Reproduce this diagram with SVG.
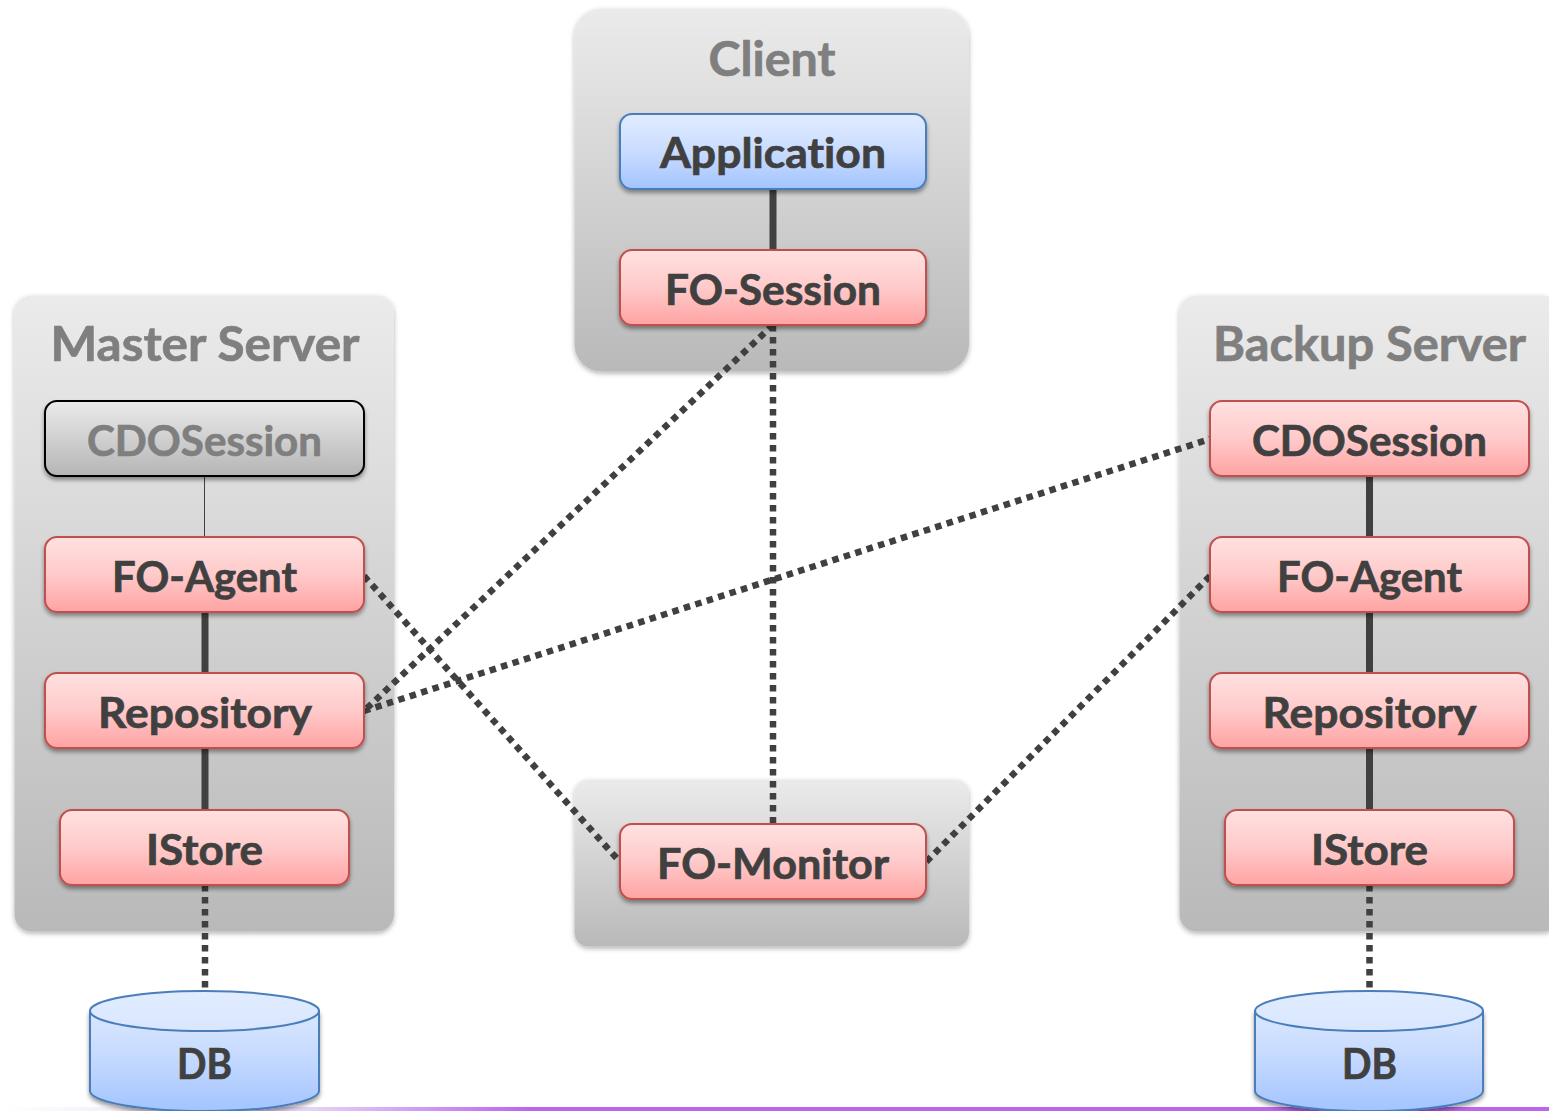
<svg xmlns="http://www.w3.org/2000/svg" width="1549" height="1111" viewBox="0 0 1549 1111">
<style>
text{font-family:Lato,"Liberation Sans",sans-serif;font-weight:700;text-anchor:middle;font-variant-ligatures:none;stroke-width:0.7px;paint-order:stroke}
.t{font-size:47px;fill:#7f7f7f;stroke:#7f7f7f}
.l{font-size:42px;fill:#404040;stroke:#404040}
.g{fill:#7f7f7f;stroke:#7f7f7f}
.panel{fill:url(#pg);filter:url(#ps)}
.red{fill:url(#rg);stroke:#c0504d;stroke-width:2;filter:url(#ns)}
.blue{fill:url(#bg);stroke:#4a7ebb;stroke-width:2;filter:url(#ns)}
.gray{fill:url(#gg);stroke:#000;stroke-width:2;filter:url(#ns)}
.dbs{fill:url(#dg);stroke:#4a7ebb;stroke-width:2}
.dbt{fill:url(#dt);stroke:#4a7ebb;stroke-width:2}
.solid{stroke:#404040;stroke-width:7;fill:none}
.thin{stroke:#404040;stroke-width:1;fill:none}
.dot{stroke:#404040;stroke-width:6.500;stroke-dasharray:6.500 5.500;fill:none}
</style>
<defs>
<linearGradient id="pg" x1="0" y1="0" x2="0" y2="1"><stop offset="0" stop-color="#ebebeb"/><stop offset="1" stop-color="#b9b9b9"/></linearGradient>
<linearGradient id="rg" x1="0" y1="0" x2="0" y2="1"><stop offset="0" stop-color="#ffe1e1"/><stop offset="0.5" stop-color="#ffcaca"/><stop offset="1" stop-color="#ffa3a3"/></linearGradient>
<linearGradient id="bg" x1="0" y1="0" x2="0" y2="1"><stop offset="0" stop-color="#e1ecff"/><stop offset="0.5" stop-color="#c9dcff"/><stop offset="1" stop-color="#a3c4ff"/></linearGradient>
<linearGradient id="gg" x1="0" y1="0" x2="0" y2="1"><stop offset="0" stop-color="#ebebeb"/><stop offset="1" stop-color="#b5b5b5"/></linearGradient>
<linearGradient id="dg" x1="0" y1="991" x2="0" y2="1111" gradientUnits="userSpaceOnUse"><stop offset="0" stop-color="#e1ecff"/><stop offset="0.5" stop-color="#c9dcff"/><stop offset="1" stop-color="#a3c4ff"/></linearGradient>
<linearGradient id="dt" x1="0" y1="0" x2="0" y2="1"><stop offset="0" stop-color="#e1ecff"/><stop offset="1" stop-color="#d9e6ff"/></linearGradient>
<linearGradient id="strip" x1="0" y1="0" x2="1" y2="0"><stop offset="0" stop-color="#ffffff"/><stop offset="0.2" stop-color="#e3d3f6"/><stop offset="0.34" stop-color="#bc66f0"/><stop offset="1" stop-color="#bc66f0"/></linearGradient>
<filter id="ps" x="-5%" y="-5%" width="110%" height="110%"><feDropShadow dx="0" dy="2" stdDeviation="2.500" flood-color="#000" flood-opacity="0.3"/></filter>
<filter id="ns" x="-5%" y="-10%" width="110%" height="130%"><feDropShadow dx="0" dy="3" stdDeviation="2" flood-color="#000" flood-opacity="0.4"/></filter>
</defs>
<rect id="strip-bar" x="0" y="1107" width="1549" height="4" fill="url(#strip)"/>
<g id="client"><rect class="panel" x="574.500" y="8.500" width="394.500" height="363" rx="27"/><text class="t" x="772" y="76" textLength="127" lengthAdjust="spacingAndGlyphs">Client</text></g>
<g id="master-server"><rect class="panel" x="14.500" y="295.500" width="379.500" height="636" rx="17"/><text class="t" x="205" y="361" textLength="309" lengthAdjust="spacingAndGlyphs">Master Server</text></g>
<g id="monitor-panel"><rect class="panel" x="574.500" y="779.500" width="394.500" height="167" rx="14"/></g>
<g id="backup-server"><rect class="panel" x="1179.500" y="295.500" width="380" height="636" rx="17"/><text class="t" x="1369.500" y="361" textLength="313" lengthAdjust="spacingAndGlyphs">Backup Server</text></g>
<g id="connectors">
<path class="solid" d="M773 189V250M205 612V673M205 748V810M1369.500 476V537M1369.500 612V673M1369.500 748V810"/>
<path class="thin" d="M204.500 476V537"/>
<path class="dot" d="M773 325L364 711M773 325V824M364 711L1210 439M364 576L620 862M1210 576L926 862M205 885V990M1369.500 885V990"/>
</g>
<g id="application"><rect class="blue" x="620" y="114" width="306" height="75" rx="12"/><text class="l" x="773" y="168" textLength="226" lengthAdjust="spacingAndGlyphs">Application</text></g>
<g id="fo-session"><rect class="red" x="620" y="250" width="306" height="75" rx="12"/><text class="l" x="773" y="304.500" textLength="216" lengthAdjust="spacingAndGlyphs">FO-Session</text></g>
<g id="fo-monitor"><rect class="red" x="620" y="824" width="306" height="75" rx="12"/><text class="l" x="773" y="878.500" textLength="232" lengthAdjust="spacingAndGlyphs">FO-Monitor</text></g>
<g id="m-cdosession"><rect class="gray" x="45" y="401" width="319" height="75" rx="12"/><text class="l g" x="204.500" y="455.500" textLength="235" lengthAdjust="spacingAndGlyphs">CDOSession</text></g>
<g id="m-fo-agent"><rect class="red" x="45" y="537" width="319" height="75" rx="12"/><text class="l" x="204.500" y="591.500" textLength="185" lengthAdjust="spacingAndGlyphs">FO-Agent</text></g>
<g id="m-repository"><rect class="red" x="45" y="673" width="319" height="75" rx="12"/><text class="l" x="205" y="727.500" textLength="214" lengthAdjust="spacingAndGlyphs">Repository</text></g>
<g id="m-istore"><rect class="red" x="60" y="810" width="289" height="75" rx="12"/><text class="l" x="204.500" y="864.500" textLength="117" lengthAdjust="spacingAndGlyphs">IStore</text></g>
<g id="b-cdosession"><rect class="red" x="1210" y="401" width="319" height="75" rx="12"/><text class="l" x="1369.500" y="455.500" textLength="235" lengthAdjust="spacingAndGlyphs">CDOSession</text></g>
<g id="b-fo-agent"><rect class="red" x="1210" y="537" width="319" height="75" rx="12"/><text class="l" x="1369.500" y="591.500" textLength="185" lengthAdjust="spacingAndGlyphs">FO-Agent</text></g>
<g id="b-repository"><rect class="red" x="1210" y="673" width="319" height="75" rx="12"/><text class="l" x="1369.500" y="727.500" textLength="214" lengthAdjust="spacingAndGlyphs">Repository</text></g>
<g id="b-istore"><rect class="red" x="1225" y="810" width="289" height="75" rx="12"/><text class="l" x="1369.500" y="864.500" textLength="117" lengthAdjust="spacingAndGlyphs">IStore</text></g>
<g id="db-master"><path class="dbs" filter="url(#ns)" d="M90 1011V1091A114.500 20 0 0 0 319 1091V1011Z"/><ellipse class="dbt" cx="204.500" cy="1011" rx="114.500" ry="20"/><text class="l" x="204.500" y="1078.500" textLength="55" lengthAdjust="spacingAndGlyphs">DB</text></g>
<g id="db-backup"><path class="dbs" filter="url(#ns)" d="M1255 1011V1091A114 20 0 0 0 1483 1091V1011Z"/><ellipse class="dbt" cx="1369" cy="1011" rx="114" ry="20"/><text class="l" x="1369.500" y="1078.500" textLength="55" lengthAdjust="spacingAndGlyphs">DB</text></g>
</svg>
